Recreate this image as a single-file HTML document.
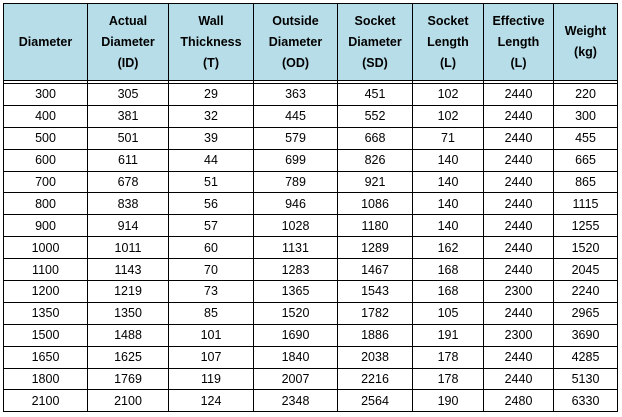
<!DOCTYPE html>
<html><head><style>
body{margin:0;background:#fff;width:622px;height:417px;overflow:hidden;font-family:"Liberation Sans",sans-serif;}
table{position:absolute;left:3px;top:3px;border-collapse:collapse;table-layout:fixed;}
td{border:1.5px solid #000;text-align:center;padding:0;font-size:12.5px;color:#000;}
tr.h td{background:#b7dde8;font-weight:bold;height:76px;line-height:21px;font-size:12.5px;}
tr.g td{height:2px;border-top:1.5px solid #000;}
tr.r td{height:20.9px;}
</style></head><body>
<table>
<colgroup><col style="width:84px"><col style="width:81px"><col style="width:85px"><col style="width:84px"><col style="width:75px"><col style="width:71px"><col style="width:70px"><col style="width:64px"></colgroup>
<tr class="h"><td>Diameter</td><td>Actual<br>Diameter<br>(ID)</td><td>Wall<br>Thickness<br>(T)</td><td>Outside<br>Diameter<br>(OD)</td><td>Socket<br>Diameter<br>(SD)</td><td>Socket<br>Length<br>(L)</td><td>Effective<br>Length<br>(L)</td><td>Weight<br>(kg)</td></tr>
<tr class="g"><td></td><td></td><td></td><td></td><td></td><td></td><td></td><td></td></tr>
<tr class="r"><td>300</td><td>305</td><td>29</td><td>363</td><td>451</td><td>102</td><td>2440</td><td>220</td></tr>
<tr class="r"><td>400</td><td>381</td><td>32</td><td>445</td><td>552</td><td>102</td><td>2440</td><td>300</td></tr>
<tr class="r"><td>500</td><td>501</td><td>39</td><td>579</td><td>668</td><td>71</td><td>2440</td><td>455</td></tr>
<tr class="r"><td>600</td><td>611</td><td>44</td><td>699</td><td>826</td><td>140</td><td>2440</td><td>665</td></tr>
<tr class="r"><td>700</td><td>678</td><td>51</td><td>789</td><td>921</td><td>140</td><td>2440</td><td>865</td></tr>
<tr class="r"><td>800</td><td>838</td><td>56</td><td>946</td><td>1086</td><td>140</td><td>2440</td><td>1115</td></tr>
<tr class="r"><td>900</td><td>914</td><td>57</td><td>1028</td><td>1180</td><td>140</td><td>2440</td><td>1255</td></tr>
<tr class="r"><td>1000</td><td>1011</td><td>60</td><td>1131</td><td>1289</td><td>162</td><td>2440</td><td>1520</td></tr>
<tr class="r"><td>1100</td><td>1143</td><td>70</td><td>1283</td><td>1467</td><td>168</td><td>2440</td><td>2045</td></tr>
<tr class="r"><td>1200</td><td>1219</td><td>73</td><td>1365</td><td>1543</td><td>168</td><td>2300</td><td>2240</td></tr>
<tr class="r"><td>1350</td><td>1350</td><td>85</td><td>1520</td><td>1782</td><td>105</td><td>2440</td><td>2965</td></tr>
<tr class="r"><td>1500</td><td>1488</td><td>101</td><td>1690</td><td>1886</td><td>191</td><td>2300</td><td>3690</td></tr>
<tr class="r"><td>1650</td><td>1625</td><td>107</td><td>1840</td><td>2038</td><td>178</td><td>2440</td><td>4285</td></tr>
<tr class="r"><td>1800</td><td>1769</td><td>119</td><td>2007</td><td>2216</td><td>178</td><td>2440</td><td>5130</td></tr>
<tr class="r"><td>2100</td><td>2100</td><td>124</td><td>2348</td><td>2564</td><td>190</td><td>2480</td><td>6330</td></tr>
</table>
</body></html>
